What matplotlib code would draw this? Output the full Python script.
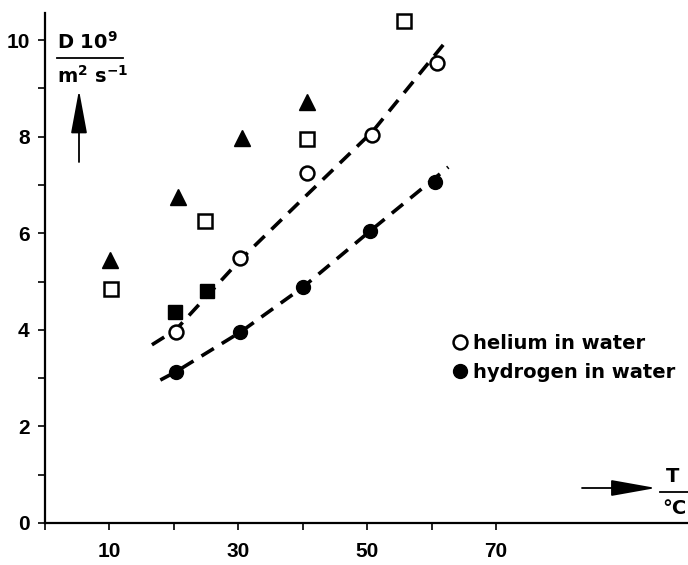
import matplotlib.pyplot as plt

plt.rcParams["font.family"] = ["Liberation Sans", "DejaVu Sans"]
plt.rcParams["font.weight"] = "bold"
plt.rcParams["mathtext.fontset"] = "custom"
plt.rcParams["mathtext.rm"] = "DejaVu Sans:bold"
plt.rcParams["mathtext.it"] = "DejaVu Sans:bold"
plt.rcParams["mathtext.bf"] = "DejaVu Sans:bold"

W, H = 688, 565
WIDE = ["DejaVu Sans"]

# values (T in axis units, D in 1e-9 m^2/s)
helium_T = [20.3, 30.3, 40.7, 50.8, 60.9]
helium_D = [3.95, 5.48, 7.24, 8.03, 9.52]
hydrogen_T = [20.3, 30.3, 40.1, 50.5, 60.6]
hydrogen_D = [3.13, 3.95, 4.89, 6.05, 7.06]

tri_T = [10.1, 20.6, 30.6, 40.7]
tri_D = [5.45, 6.75, 7.97, 8.72]
sq_open_T = [10.2, 24.9, 40.7, 55.7]
sq_open_D = [4.84, 6.25, 7.95, 10.39]
sq_fill_T = [20.2, 25.1]
sq_fill_D = [4.37, 4.80]

# dashed fit curves
he_fit_T = [16.6, 20.3, 30.3, 40.7, 50.8, 61.8]
he_fit_D = [3.69, 4.00, 5.45, 6.80, 8.10, 9.90]
h2_fit_T = [17.9, 20.3, 30.3, 40.1, 50.5, 62.6]
h2_fit_D = [2.96, 3.13, 3.95, 4.89, 6.05, 7.37]

x_ticks = [0, 10, 20, 30, 40, 50, 60, 70]
x_labels = ["", "10", "", "30", "", "50", "", "70"]
y_ticks = [0, 2, 4, 6, 8, 10]
y_minor = [1, 3, 5, 7, 9]


def fx(px):
    return px / W


def fy(py):
    return 1 - py / H


fig = plt.figure(figsize=(6.88, 5.65), dpi=100)
ax = fig.add_axes([fx(45), 42 / H, (W - 45) / W, (523 - 13) / H])
ax.set_xlim(0, 99.8)
ax.set_ylim(0, 10.56)

for s in ["top", "right"]:
    ax.spines[s].set_visible(False)
for s in ["left", "bottom"]:
    ax.spines[s].set_linewidth(1.6)

ax.set_xticks(x_ticks)
ax.set_xticklabels(x_labels)
ax.set_yticks(y_ticks)
ax.set_yticks(y_minor, minor=True)
ax.tick_params(axis="both", which="both", direction="out", length=5, width=1.2,
               labelsize=15)
ax.tick_params(axis="x", pad=9)
ax.tick_params(axis="y", pad=6)

dash = dict(color="black", lw=2.6, dashes=(4, 2.6), dash_capstyle="butt")
ax.plot(he_fit_T, he_fit_D, **dash)
ax.plot(h2_fit_T, h2_fit_D, **dash)

ax.plot(tri_T, tri_D, "^", color="black", ms=11, ls="none")
ax.plot(sq_open_T, sq_open_D, "s", mfc="white", mec="black", mew=1.8, ms=10, ls="none")
ax.plot(sq_fill_T, sq_fill_D, "s", color="black", ms=10, ls="none")
he, = ax.plot(helium_T, helium_D, "o", mfc="white", mec="black", mew=1.8, ms=10,
              ls="none", label="helium in water")
h2, = ax.plot(hydrogen_T, hydrogen_D, "o", color="black", ms=10, ls="none",
              label="hydrogen in water")

ax.legend(handles=[he, h2], loc="center left",
          bbox_to_anchor=(fx(452), fy(358)), bbox_transform=fig.transFigure,
          frameon=False, prop=dict(family=WIDE, weight="bold", size=14),
          handlelength=0.8, handletextpad=0.3,
          labelspacing=0.5, borderpad=0, borderaxespad=0)

# y quantity label
fig.text(fx(57), fy(42), "D 10$^{9}$", fontsize=14, family=WIDE,
         ha="left", va="center")
fig.add_artist(plt.Line2D([fx(57), fx(123)], [fy(58), fy(58)], color="black", lw=1.3))
fig.text(fx(57), fy(76), "m$^{2}$ s$^{-1}$", fontsize=14, family=WIDE,
         ha="left", va="center")
ax.annotate("", xy=(fx(79), fy(90)), xytext=(fx(79), fy(162)),
            xycoords="figure fraction", textcoords="figure fraction",
            arrowprops=dict(arrowstyle="-|>,head_length=2.7,head_width=0.5",
                            mutation_scale=10, lw=1.3, fc="black", ec="black",
                            shrinkA=0, shrinkB=0))

# x quantity label
ax.annotate("", xy=(fx(656), fy(488)), xytext=(fx(582), fy(488)),
            xycoords="figure fraction", textcoords="figure fraction",
            arrowprops=dict(arrowstyle="-|>,head_length=2.8,head_width=0.5",
                            mutation_scale=10, lw=1.3, fc="black", ec="black",
                            shrinkA=0, shrinkB=0))
fig.text(fx(673), fy(477), "T", fontsize=14, family=WIDE, ha="center", va="center")
fig.add_artist(plt.Line2D([fx(660), fx(688)], [fy(492), fy(492)], color="black", lw=1.3))
fig.text(fx(674), fy(508), "°C", fontsize=14, family=WIDE, ha="center", va="center")

fig.savefig("out.png", dpi=100)
